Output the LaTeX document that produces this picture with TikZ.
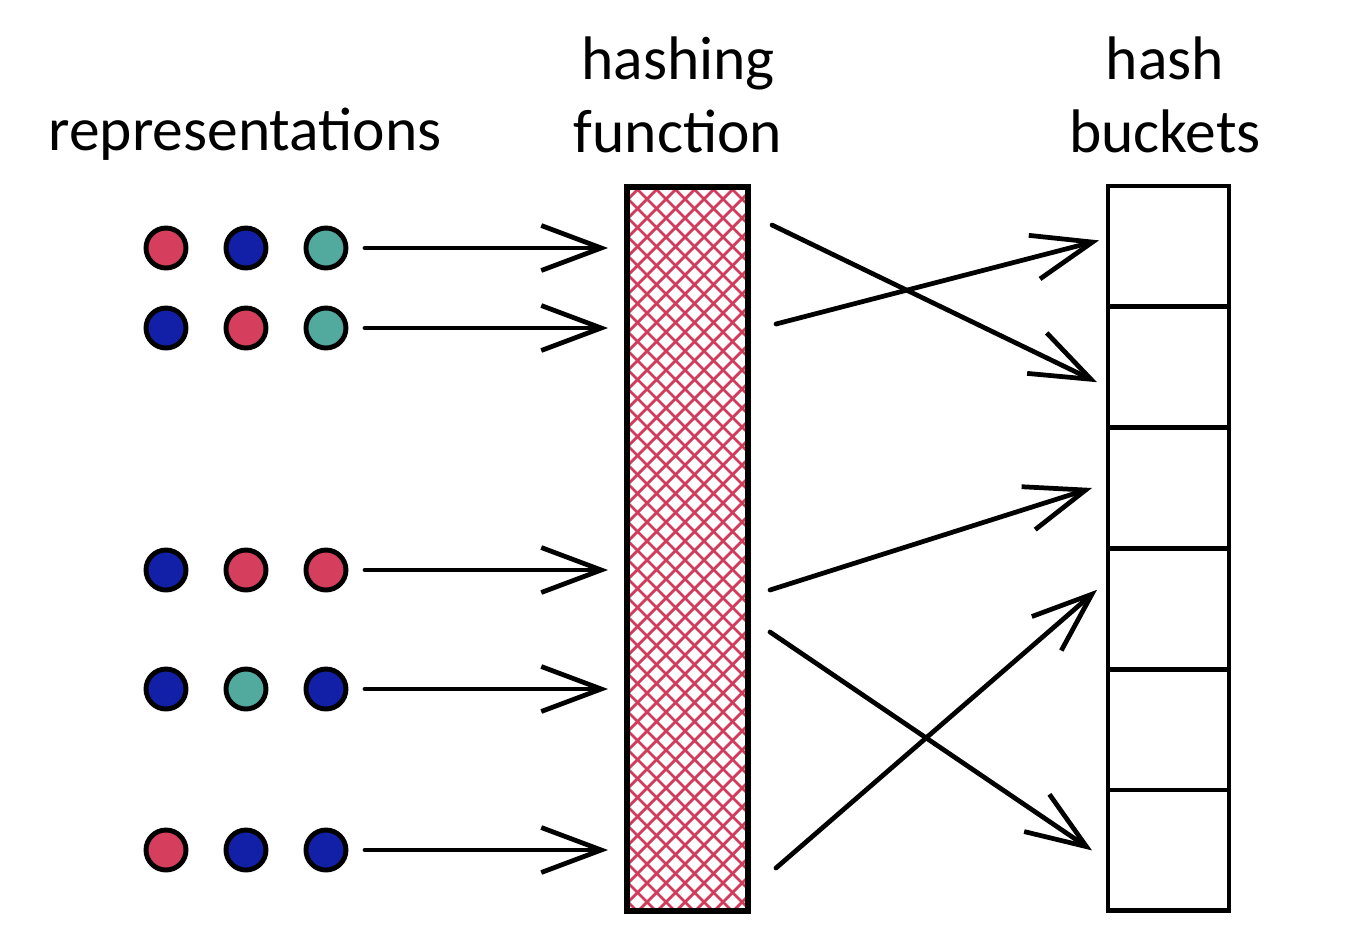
\documentclass[tikz,border=0pt]{standalone}
\usepackage{fontspec}
\setmainfont{Carlito}
\usetikzlibrary{arrows.meta,positioning}

\definecolor{dotred}{RGB}{214,62,94}
\definecolor{dotblue}{RGB}{18,32,168}
\definecolor{dotteal}{RGB}{82,170,158}
\definecolor{hatchred}{RGB}{210,60,92}

\begin{document}
\begin{tikzpicture}[
  x=0.02cm, y=-0.02cm,
  heading/.style={font=\fontsize{35}{41}\selectfont, align=center, anchor=base},
  dot/.style={circle, draw=black, line width=2.8pt, minimum size=0.8cm, inner sep=0pt, outer sep=0pt},
  bucket/.style={rectangle, draw, line width=2.7pt, minimum width=2.42cm, minimum height=2.415cm, outer sep=0pt},
  hashbox/.style={rectangle, draw, line width=3.2pt, minimum width=2.42cm, minimum height=14.48cm, outer sep=0pt},
  hatch/.style={draw=hatchred, line width=1.6pt},
  arr/.style={line width=2.7pt, line cap=round, -{Straight Barb[length=1.2cm,width=0.9cm]}}
  ]
  \useasboundingbox (0,0) rectangle (1362,944);

  % titles
  \node[heading] (rep) at (245,150) {representations};
  \node[heading] (hfn) at (678,152) {hashing\\function};
  \node[heading] (hbk) at (1165,152) {hash\\buckets};

  % hashing function
  \begin{scope}
    \clip (627,187) rectangle (748,911);
    \foreach \k in {0,19,...,930} {
      \draw[hatch] (600,170+\k) -- ++(200,-200);
      \draw[hatch] (600,\k) -- ++(200,200);
    }
  \end{scope}
  \node[hashbox] (hf) at (687.5,549) {};

  % hash buckets
  \foreach \i in {1,...,6}
    \node[bucket] (b\i) at (1168.5,{186+120.8*\i-60.4}) {};

  % representations
  \foreach \r/\y/\ca/\cb/\cc in {1/248/dotred/dotblue/dotteal,
                                 2/328/dotblue/dotred/dotteal,
                                 3/570/dotblue/dotred/dotred,
                                 4/689/dotblue/dotteal/dotblue,
                                 5/850/dotred/dotblue/dotblue} {
    \node[dot, fill=\ca] (d\r1) at (166,\y) {};
    \node[dot, fill=\cb, right=0.8cm of d\r1] (d\r2) {};
    \node[dot, fill=\cc, right=0.8cm of d\r2] (d\r3) {};
    \draw[arr, shorten <=0.38cm, shorten >=0.38cm] (d\r3) -- (hf.west |- d\r3);
  }

  % outputs
  \coordinate (o1) at (772,225);
  \coordinate (o2) at (776,324);
  \coordinate (o3) at (770,590);
  \coordinate (o4) at (770,632);
  \coordinate (o5) at (776,868);
  \draw[arr] (o1) -- ([xshift=-0.22cm,yshift=-0.3cm]b2.west);
  \draw[arr] (o2) -- ([xshift=-0.18cm,yshift=0.12cm]b1.west);
  \draw[arr] (o3) -- ([xshift=-0.32cm]b3.west);
  \draw[arr] (o4) -- ([xshift=-0.32cm]b6.west);
  \draw[arr] (o5) -- ([xshift=-0.22cm,yshift=0.38cm]b4.west);
\end{tikzpicture}
\end{document}
